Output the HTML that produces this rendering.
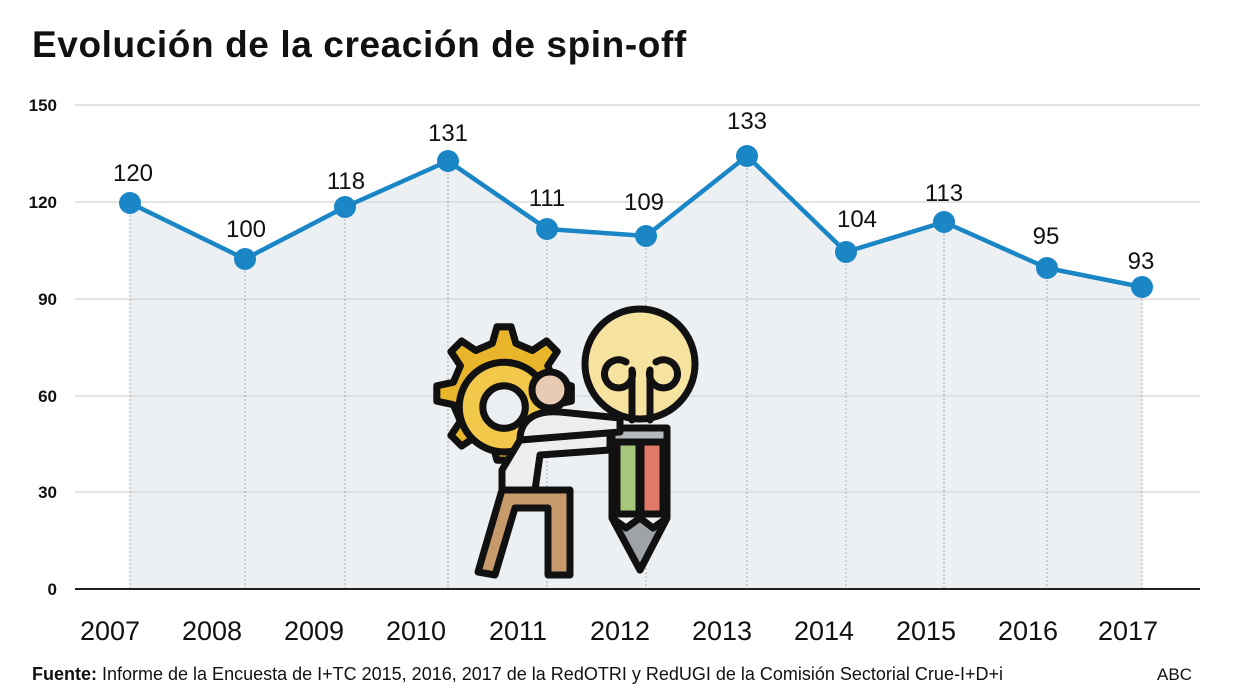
<!DOCTYPE html>
<html><head><meta charset="utf-8"><style>
body{margin:0;background:#fff;}
svg{display:block;font-family:"Liberation Sans",sans-serif;}
</style></head><body>
<svg width="1239" height="698" viewBox="0 0 1239 698" xmlns="http://www.w3.org/2000/svg">
<rect width="1239" height="698" fill="#fff"/>
<text x="32" y="57" font-size="37" font-weight="bold" fill="#111" letter-spacing="0.6">Evolución de la creación de spin-off</text>
<polygon points="130,203 245,259 345,207 448,161 547,229 646,236 747,156 846,252 944,222 1047,268 1142,287 1142,589 130,589" fill="#ecf0f3"/>
<g stroke="#d4d4d4" stroke-width="1.2">
<line x1="75" y1="105" x2="1200" y2="105"/>
<line x1="75" y1="202" x2="1200" y2="202"/>
<line x1="75" y1="299" x2="1200" y2="299"/>
<line x1="75" y1="396" x2="1200" y2="396"/>
<line x1="75" y1="492" x2="1200" y2="492"/>
</g>
<g stroke="#aaa" stroke-width="1" stroke-dasharray="2,2">
<line x1="130" y1="203" x2="130" y2="589"/><line x1="245" y1="259" x2="245" y2="589"/>
<line x1="345" y1="207" x2="345" y2="589"/><line x1="448" y1="161" x2="448" y2="589"/>
<line x1="547" y1="229" x2="547" y2="589"/><line x1="646" y1="236" x2="646" y2="589"/>
<line x1="747" y1="156" x2="747" y2="589"/><line x1="846" y1="252" x2="846" y2="589"/>
<line x1="944" y1="222" x2="944" y2="589"/><line x1="1047" y1="268" x2="1047" y2="589"/>
<line x1="1142" y1="287" x2="1142" y2="589"/>
</g>
<line x1="75" y1="589" x2="1200" y2="589" stroke="#222" stroke-width="2"/>
<g font-size="17" font-weight="bold" fill="#111" text-anchor="end">
<text x="57" y="111">150</text><text x="57" y="208">120</text><text x="57" y="305">90</text>
<text x="57" y="402">60</text><text x="57" y="498">30</text><text x="57" y="595">0</text>
</g>
<g stroke="#111" stroke-width="7" stroke-linejoin="round" stroke-linecap="round">
<g transform="translate(497,400) scale(1.18) translate(-497,-400)">
<path d="M497,338 l12,0 4,14 14,6 12,-8 9,9 -8,12 6,14 14,3 0,13 -14,3 -6,14 8,12 -9,9 -12,-8 -14,6 -4,14 -12,0 -4,-14 -14,-6 -12,8 -9,-9 8,-12 -6,-14 -14,-3 0,-13 14,-3 6,-14 -8,-12 9,-9 12,8 14,-6z" fill="#e9b52a" stroke-width="6"/>
<circle cx="503" cy="406" r="38" fill="#f1c84a" stroke-width="6"/>
<circle cx="503" cy="406" r="18" fill="#eceff2" stroke-width="6"/>
</g>
<circle cx="640" cy="364" r="55" fill="#f7e3a0"/>
<path d="M632,420 L632,370 M650,420 L650,370 M632,370 a14,14 0 1,1 -6,-8 M650,370 a14,14 0 1,0 6,-8" fill="none"/>
<path d="M612,428 L667,428 L667,518 L640,570 L612,518 Z" fill="#f0f0f0"/>
<rect x="612" y="428" width="55" height="14" fill="#b5b9bd"/>
<rect x="617" y="442" width="22" height="72" fill="#a5c87a"/>
<rect x="641" y="442" width="22" height="72" fill="#e07a66"/>
<path d="M612,518 L626,528 L640,518 L653,528 L667,518 L640,570 Z" fill="#9ea3a7"/>
<path d="M502,490 L502,470 L520,440 L610,432 L610,450 L540,455 L535,490 Z" fill="#eeeeee"/>
<path d="M520,440 C520,420 535,410 560,412 L620,418 L620,432 Z" fill="#eeeeee"/>
<path d="M502,490 L570,490 L570,575 L548,575 L548,508 L515,508 L495,575 L478,572 Z" fill="#c79a6c"/>
<circle cx="550" cy="390" r="18" fill="#e9cbb3"/>
</g>
<polyline points="130,203 245,259 345,207 448,161 547,229 646,236 747,156 846,252 944,222 1047,268 1142,287" fill="none" stroke="#1a86c6" stroke-width="4.5" stroke-linejoin="round"/>
<g fill="#1a86c6">
<circle cx="130" cy="203" r="11"/><circle cx="245" cy="259" r="11"/><circle cx="345" cy="207" r="11"/>
<circle cx="448" cy="161" r="11"/><circle cx="547" cy="229" r="11"/><circle cx="646" cy="236" r="11"/>
<circle cx="747" cy="156" r="11"/><circle cx="846" cy="252" r="11"/><circle cx="944" cy="222" r="11"/>
<circle cx="1047" cy="268" r="11"/><circle cx="1142" cy="287" r="11"/>
</g>
<g font-size="24" fill="#111" text-anchor="middle">
<text x="133" y="181">120</text><text x="246" y="237">100</text><text x="346" y="189">118</text>
<text x="448" y="141">131</text><text x="547" y="206">111</text><text x="644" y="210">109</text>
<text x="747" y="129">133</text><text x="857" y="227">104</text><text x="944" y="201">113</text>
<text x="1046" y="244">95</text><text x="1141" y="269">93</text>
</g>
<g font-size="27" fill="#111" text-anchor="middle">
<text x="110" y="640">2007</text><text x="212" y="640">2008</text><text x="314" y="640">2009</text>
<text x="416" y="640">2010</text><text x="518" y="640">2011</text><text x="620" y="640">2012</text>
<text x="722" y="640">2013</text><text x="824" y="640">2014</text><text x="926" y="640">2015</text>
<text x="1028" y="640">2016</text><text x="1128" y="640">2017</text>
</g>
<text x="32" y="680" font-size="18" fill="#111"><tspan font-weight="bold">Fuente:</tspan> Informe de la Encuesta de I+TC 2015, 2016, 2017 de la RedOTRI y RedUGI de la Comisión Sectorial Crue-I+D+i</text>
<text x="1192" y="680" font-size="17" fill="#111" text-anchor="end">ABC</text>
</svg>
</body></html>
